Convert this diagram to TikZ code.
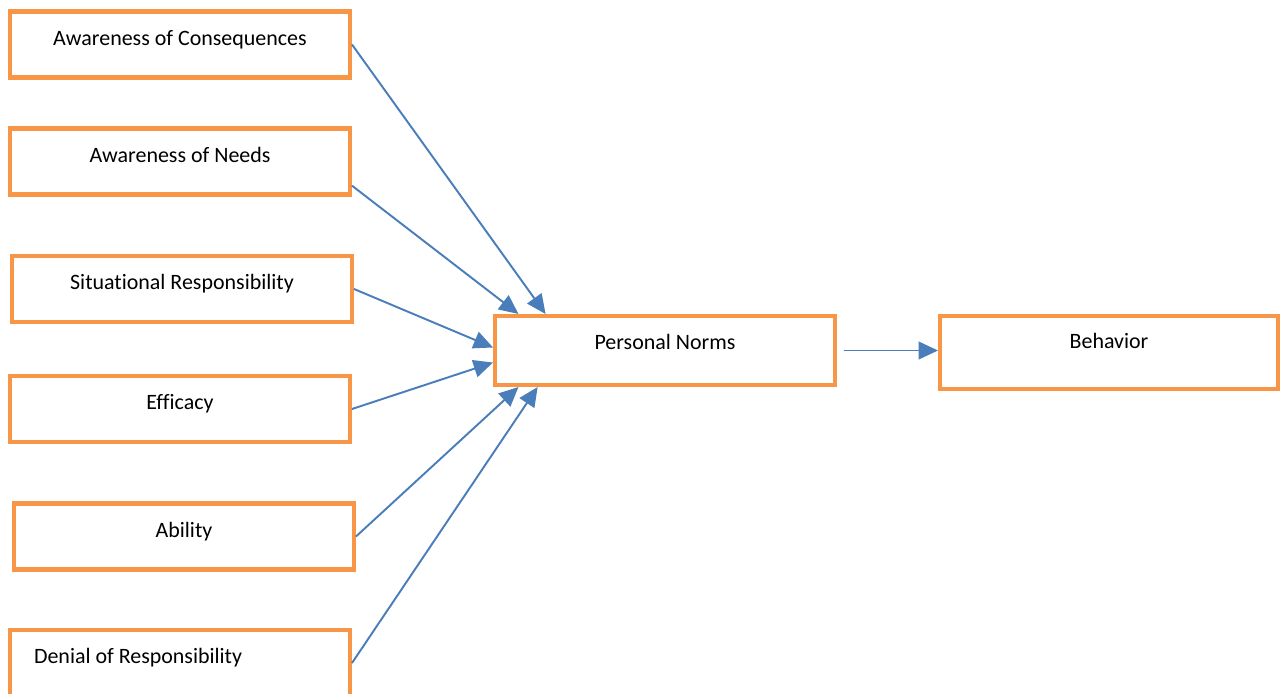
\documentclass[tikz,border=0pt]{standalone}
\usepackage{fontspec}
\setmainfont{Carlito}[Ligatures=NoCommon]
\usetikzlibrary{arrows.meta}
\definecolor{boxorange}{HTML}{F79646}
\definecolor{arrowblue}{HTML}{4A7EBB}

\begin{document}
\begin{tikzpicture}[x=0.02cm, y=-0.02cm,
  box/.style={draw=boxorange, line width=2.3pt, rectangle, minimum width=6.8cm, minimum height=1.32cm, font=\fontsize{12.5}{15}\selectfont, text depth=8pt},
  link/.style={draw=arrowblue, line width=1.1pt, -{Triangle[length=11pt, width=10pt]}}]
\useasboundingbox (0,0) rectangle (1280,693);
\node  (1)[box] at (180,44.5) {Awareness of Consequences};
\node  (2)[box] at (180,161.5) {Awareness of Needs};
\node  (3)[box] at (182,289) {Situational Responsibility};
\node  (4)[box] at (180,409) {Efficacy};
\node  (5)[box] at (184,536.5) {Ability};
\node  (6)[box, align=flush left, text width=5.84cm, inner xsep=0.48cm] at (180,663) {Denial of Responsibility};
\node  (7)[box, minimum height=1.38cm, text depth=10pt] at (665,350.5) {Personal Norms};
\node  (8)[box, minimum width=6.76cm, minimum height=1.46cm, text depth=13pt] at (1109,352.5) {Behavior};
\draw[link] (1.east) -- (7.163);
\draw[link] (2.-8) -- (7.166);
\draw[link] (3.east) -- (7.179);
\draw[link] (4.east) -- (7.184);
\draw[link] (5.east) -- (7.194);
\draw[link] (6.east) -- (7.196);
\draw[link, shorten <=4pt] (7.east) -- (7.east -| 8.west);
\end{tikzpicture}
\end{document}
